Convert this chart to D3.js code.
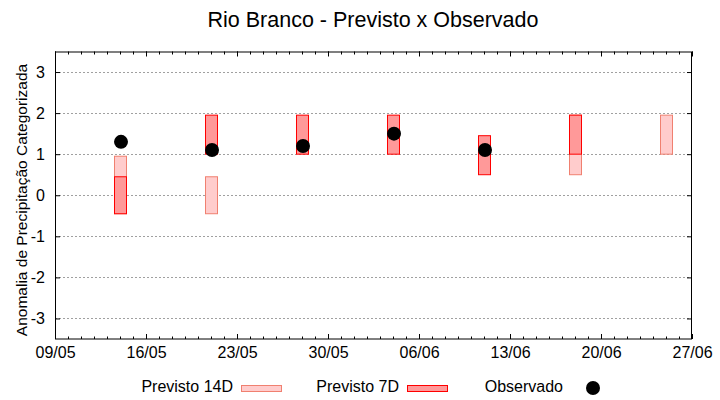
<!DOCTYPE html>
<html><head><meta charset="utf-8">
<script src="https://cdn.jsdelivr.net/npm/d3@7"></script>
<style>
html,body{margin:0;padding:0;background:#fff;}
text{font-family:"Liberation Sans",Arial,sans-serif;fill:#000;}
</style></head>
<body><svg id="c" width="720" height="400"></svg>
<script>
const title = "Rio Branco - Previsto x Observado";
const yLabel = "Anomalia de Precipitação Categorizada";
const xTickLabels = ["09/05","16/05","23/05","30/05","06/06","13/06","20/06","27/06"];
const yTickValues = [-3,-2,-1,0,1,2,3];
const dates = ["14/05","21/05","28/05","04/06","11/06","18/06","25/06"];
const p14Low  = [-0.45,-0.45, null, null, null, 0.5, 1.0];
const p14High = [ 0.95, 0.45, null, null, null, 1.95, 1.95];
const p7Low   = [-0.45, 1.0, 1.0, 1.0, 0.5, 1.0, null];
const p7High  = [ 0.45, 1.95, 1.95, 1.95, 1.45, 1.95, null];
const observed = [1.3, 1.1, 1.2, 1.5, 1.1, null, null];
const year = 2023;

const parse = s => { const [d,m] = s.split("/").map(Number); return new Date(Date.UTC(year, m-1, d)); };

const svg = d3.select("#c");
const L = 55, R = 692, T = 51.5, B = 339;
const x = d3.scaleUtc().domain([parse(xTickLabels[0]), parse(xTickLabels[xTickLabels.length-1])]).range([L, R]);
const y = d3.scaleLinear().domain([-3.5, 3.5]).range([B, T]);

// grid
svg.append("g").selectAll("line").data(yTickValues).join("line")
  .attr("x1", L).attr("x2", R)
  .attr("y1", d => Math.round(y(d))+0.5).attr("y2", d => Math.round(y(d))+0.5)
  .attr("stroke", "#a0a0a0").attr("stroke-width", 1).attr("stroke-dasharray", "2,2");

// axes
const dayTicks = d3.utcDay.range(x.domain()[0], d3.utcDay.offset(x.domain()[1], 1));
const majorTicks = xTickLabels.map(parse);
const fmt = d3.utcFormat("%d/%m");

const gB = svg.append("g").attr("transform", `translate(0,${B})`)
  .call(d3.axisBottom(x).tickValues(majorTicks).tickFormat(fmt).tickSize(0).tickPadding(0));
gB.select(".domain").remove();
gB.selectAll("text").attr("font-size", 16).attr("font-family", "Liberation Sans, Arial, sans-serif").attr("dy", null).attr("y", 18.5);

const gBm = svg.append("g").attr("transform", `translate(0,${B})`)
  .call(d3.axisBottom(x).tickValues(dayTicks).tickFormat("").tickSizeInner(-2.5).tickSizeOuter(0));
gBm.select(".domain").remove();
const gBM = svg.append("g").attr("transform", `translate(0,${B})`)
  .call(d3.axisBottom(x).tickValues(majorTicks).tickFormat("").tickSizeInner(-5).tickSizeOuter(0));
gBM.select(".domain").remove();
const gTm = svg.append("g").attr("transform", `translate(0,${T})`)
  .call(d3.axisTop(x).tickValues(dayTicks).tickFormat("").tickSizeInner(-3).tickSizeOuter(0));
gTm.select(".domain").remove();
const gTM = svg.append("g").attr("transform", `translate(0,${T})`)
  .call(d3.axisTop(x).tickValues(majorTicks).tickFormat("").tickSizeInner(-5).tickSizeOuter(0));
gTM.select(".domain").remove();

const gL = svg.append("g").attr("transform", `translate(${L},0)`)
  .call(d3.axisLeft(y).tickValues(yTickValues).tickFormat(d3.format("d")).tickSizeInner(-5).tickSizeOuter(0).tickPadding(10));
gL.select(".domain").remove();
gL.selectAll("text").attr("font-size", 16).attr("font-family", "Liberation Sans, Arial, sans-serif");
gL.selectAll("text").text(d => d < 0 ? "-" + Math.abs(d) : d);
const gR = svg.append("g").attr("transform", `translate(${R},0)`)
  .call(d3.axisRight(y).tickValues(yTickValues).tickFormat("").tickSizeInner(-5).tickSizeOuter(0));
gR.select(".domain").remove();
svg.selectAll(".tick line").attr("stroke", "#000");

// frame
svg.append("rect").attr("x", L+0.5).attr("y", T+0.5).attr("width", R-L-1).attr("height", B-T-0.5)
  .attr("fill", "none").attr("stroke", "#000").attr("stroke-width", 1);

// bars
const halfW = 6;
const rows = dates.map((d,i) => ({d: parse(d), l14: p14Low[i], h14: p14High[i], l7: p7Low[i], h7: p7High[i], o: observed[i]}));
svg.append("g").selectAll("rect").data(rows.filter(r => r.l14 != null)).join("rect")
  .attr("x", r => Math.round(x(r.d)) - halfW + 0.5).attr("width", 2*halfW)
  .attr("y", r => y(r.h14)).attr("height", r => y(r.l14) - y(r.h14))
  .attr("fill", "#ffcccc").attr("stroke", "#f08070").attr("stroke-width", 1);
svg.append("g").selectAll("rect").data(rows.filter(r => r.l7 != null)).join("rect")
  .attr("x", r => Math.round(x(r.d)) - halfW + 0.5).attr("width", 2*halfW)
  .attr("y", r => y(r.h7)).attr("height", r => y(r.l7) - y(r.h7))
  .attr("fill", "#ff9999").attr("stroke", "#ff0000").attr("stroke-width", 1);
svg.append("g").selectAll("circle").data(rows.filter(r => r.o != null)).join("circle")
  .attr("cx", r => x(r.d) + 1).attr("cy", r => y(r.o)).attr("r", 7).attr("fill", "#000");

// title & labels
svg.append("text").attr("x", 373).attr("y", 27).attr("text-anchor", "middle").attr("font-size", 21.5).text(title);
svg.append("text").attr("transform", `translate(26.5,200) rotate(-90)`).attr("text-anchor", "middle").attr("font-size", 15.5).text(yLabel);

// legend
const lg = svg.append("g");
lg.append("text").attr("x", 233).attr("y", 392).attr("text-anchor", "end").attr("font-size", 16).text("Previsto 14D");
lg.append("rect").attr("x", 241.5).attr("y", 385.5).attr("width", 40).attr("height", 6).attr("fill", "#ffcccc").attr("stroke", "#f08070");
lg.append("text").attr("x", 399).attr("y", 392).attr("text-anchor", "end").attr("font-size", 16).text("Previsto 7D");
lg.append("rect").attr("x", 407.5).attr("y", 385.5).attr("width", 40).attr("height", 6).attr("fill", "#ff9999").attr("stroke", "#ff0000");
lg.append("text").attr("x", 563).attr("y", 392).attr("text-anchor", "end").attr("font-size", 16).text("Observado");
lg.append("circle").attr("cx", 593).attr("cy", 388).attr("r", 7).attr("fill", "#000");
</script></body></html>
